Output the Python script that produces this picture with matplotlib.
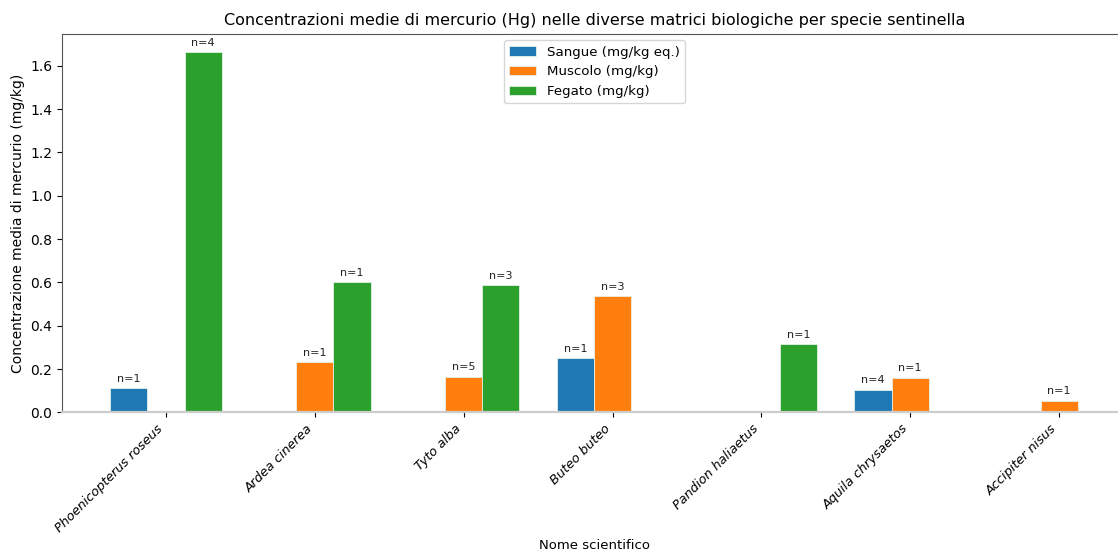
import matplotlib
matplotlib.use("Agg")
import matplotlib.pyplot as plt
import numpy as np

# Specie sentinella e concentrazioni medie di Hg (mg/kg); None = matrice non analizzata
species = ["Phoenicopterus roseus", "Ardea cinerea", "Tyto alba", "Buteo buteo",
           "Pandion haliaetus", "Aquila chrysaetos", "Accipiter nisus"]
sangue = [0.111, None, None, 0.249, None, 0.105, None]
muscolo = [None, 0.231, 0.165, 0.537, None, 0.160, 0.054]
fegato = [1.663, 0.602, 0.586, None, 0.314, None, None]

# Numero di campioni per ciascuna media
n_sangue = [1, None, None, 1, None, 4, None]
n_muscolo = [None, 1, 5, 3, None, 1, 1]
n_fegato = [4, 1, 3, None, 1, None, None]

series = [
    ("Sangue (mg/kg eq.)", sangue, n_sangue, "#1f77b4"),
    ("Muscolo (mg/kg)", muscolo, n_muscolo, "#ff7f0e"),
    ("Fegato (mg/kg)", fegato, n_fegato, "#2ca02c"),
]

W, H = 1118, 555
fig = plt.figure(figsize=(W / 100, H / 100), dpi=100)
ax = fig.add_axes([62 / W, (H - 412.4) / H, (1127 - 62) / W, (412.4 - 33.7) / H])

x = np.arange(len(species))
width = 0.25
for i, (label, vals, ns, color) in enumerate(series):
    offset = (i - 1) * width
    heights = [np.nan if v is None else v for v in vals]
    ax.bar(x + offset, heights, width, label=label, color=color,
           edgecolor="#e8f0e8", linewidth=0.6)
    for xi, v, n in zip(x, vals, ns):
        if v is not None and n is not None:
            ax.text(xi + offset, v + 0.02, f"n={n}", ha="center", va="bottom",
                    fontsize=8, color="#222222")

ax.set_xlim(-0.698, 6.456)
ax.set_ylim(0, 1.7476)
ax.set_yticks(np.arange(0, 1.61, 0.2))
ax.set_xticks(x)
ax.set_xticklabels(species, rotation=45, ha="right",
                   fontstyle="italic", fontsize=9.3)
ax.tick_params(axis="y", labelsize=10)
ax.set_xlabel("Nome scientifico", fontsize=9.5, labelpad=3)
ax.set_ylabel("Concentrazione media di mercurio (mg/kg)", fontsize=10)
ax.set_title("Concentrazioni medie di mercurio (Hg) nelle diverse matrici biologiche "
             "per specie sentinella", fontsize=11.5)
for side in ("left", "top", "right"):
    ax.spines[side].set_color("#555555")
ax.spines["bottom"].set_color("#cccccc")
ax.spines["bottom"].set_linewidth(1.6)
ax.legend(loc="upper center", fontsize=9.6)

fig.savefig("out.png", dpi=100)
